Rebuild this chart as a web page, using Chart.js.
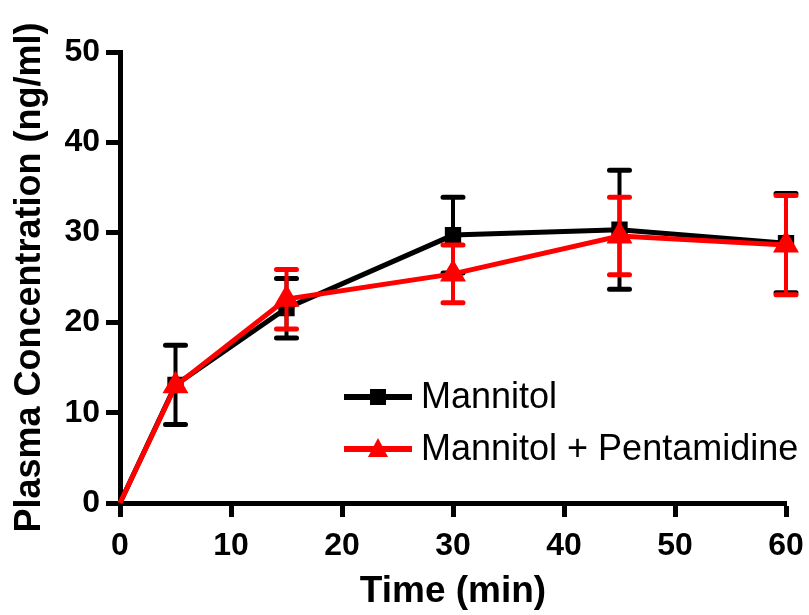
<!DOCTYPE html>
<html>
<head>
<meta charset="utf-8">
<script src="https://cdn.jsdelivr.net/npm/chart.js@4.4.1/dist/chart.umd.min.js"></script>
<style>
  body { margin: 0; background: #fff; }
  #chart { display: block; }
</style>
</head>
<body>
<canvas id="chart" width="809" height="615"></canvas>
<script>
const times = [0, 5, 15, 30, 45, 60];
const mannitol = [0, 13.1, 21.6, 29.7, 30.3, 28.8];
const mannitolErr = [0, 4.4, 3.3, 4.2, 6.6, 5.5];
const pentamidine = [0, 13.0, 22.6, 25.4, 29.6, 28.6];
const pentamidineErr = [0, 0, 3.3, 3.2, 4.3, 5.5];
const yTicks = [0, 10, 20, 30, 40, 50];
const xTicks = [0, 10, 20, 30, 40, 50, 60];

const errors = [mannitolErr, pentamidineErr];
const font = 'Arial, "Liberation Sans", sans-serif';

function toPoints(ys) {
  return times.map((t, i) => ({ x: t, y: ys[i] }));
}

// error bars, drawn right after each dataset's own line
const errorBars = {
  id: 'errorBars',
  afterDatasetDraw(chart, args) {
    const ds = chart.data.datasets[args.index];
    const err = errors[ds.errIndex];
    const ctx = chart.ctx;
    const ys = chart.scales.y;
    ctx.save();
    ctx.strokeStyle = ds.borderColor;
    ctx.lineCap = 'round';
    args.meta.data.forEach((pt, i) => {
      const e = err[i];
      if (!e) return;
      const v = ds.data[i].y;
      const top = ys.getPixelForValue(v + e);
      const bot = ys.getPixelForValue(v - e);
      ctx.lineWidth = 4;
      ctx.beginPath();
      ctx.moveTo(pt.x, top);
      ctx.lineTo(pt.x, bot);
      ctx.stroke();
      ctx.lineWidth = 5;
      ctx.beginPath();
      ctx.moveTo(pt.x - 10, top);
      ctx.lineTo(pt.x + 10, top);
      ctx.moveTo(pt.x - 10, bot);
      ctx.lineTo(pt.x + 10, bot);
      ctx.stroke();
    });
    ctx.restore();
  }
};

// legend inside the plot, lower right
const insideLegend = {
  id: 'insideLegend',
  afterDraw(chart) {
    const ctx = chart.ctx;
    const rows = [
      { label: 'Mannitol', color: '#000', style: 'rect', y: 397 },
      { label: 'Mannitol + Pentamidine', color: '#ff0000', style: 'triangle', y: 449 }
    ];
    ctx.save();
    rows.forEach(r => {
      ctx.strokeStyle = r.color;
      ctx.fillStyle = r.color;
      ctx.lineWidth = 6;
      ctx.beginPath();
      ctx.moveTo(344, r.y);
      ctx.lineTo(412, r.y);
      ctx.stroke();
      if (r.style === 'rect') {
        ctx.fillRect(370, r.y - 8, 16, 16);
      } else {
        ctx.beginPath();
        ctx.moveTo(378, r.y - 11);
        ctx.lineTo(388, r.y + 8);
        ctx.lineTo(368, r.y + 8);
        ctx.closePath();
        ctx.fill();
      }
      ctx.fillStyle = '#000';
      ctx.font = '36px ' + font;
      ctx.textBaseline = 'middle';
      ctx.fillText(r.label, 421, r.y + 1);
    });
    ctx.restore();
  }
};

new Chart(document.getElementById('chart'), {
  type: 'line',
  data: {
    datasets: [
      {
        label: 'Mannitol',
        data: toPoints(mannitol),
        errIndex: 0,
        borderColor: '#000',
        backgroundColor: '#000',
        borderWidth: 5,
        pointStyle: 'rect',
        pointRadius: [0, 8, 8, 8, 8, 8],
        order: 2
      },
      {
        label: 'Mannitol + Pentamidine',
        data: toPoints(pentamidine),
        errIndex: 1,
        borderColor: '#ff0000',
        backgroundColor: '#ff0000',
        borderWidth: 5,
        pointStyle: 'triangle',
        pointRadius: [0, 10, 10, 10, 10, 10],
        order: 1
      }
    ]
  },
  options: {
    responsive: false,
    animation: false,
    clip: false,
    layout: { padding: { top: 52, right: 23, left: 0, bottom: 0 } },
    plugins: { legend: { display: false }, tooltip: { enabled: false } },
    scales: {
      x: {
        type: 'linear',
        min: 0,
        max: 60,
        afterBuildTicks: axis => { axis.ticks = xTicks.map(v => ({ value: v })); },
        afterFit: axis => { axis.height = 112; axis.paddingLeft = 0; axis.paddingRight = 0; },
        grid: { display: true, drawOnChartArea: false, drawTicks: true, tickLength: 14, tickWidth: 5, color: '#000' },
        border: { display: true, width: 5, color: '#000' },
        ticks: { color: '#000', font: { family: font, size: 32, weight: 'bold' }, padding: 10, maxRotation: 0 },
        title: { display: true, text: 'Time (min)', color: '#000', font: { family: font, size: 37, weight: 'bold' }, padding: { top: 0, bottom: 1 } }
      },
      y: {
        min: 0,
        max: 50,
        afterBuildTicks: axis => { axis.ticks = yTicks.map(v => ({ value: v })); },
        afterFit: axis => { axis.width = 120; axis.paddingTop = 0; axis.paddingBottom = 0; },
        grid: { display: true, drawOnChartArea: false, drawTicks: true, tickLength: 14, tickWidth: 5, color: '#000' },
        border: { display: true, width: 5, color: '#000' },
        ticks: { color: '#000', font: { family: font, size: 32, weight: 'bold' }, padding: 6 },
        title: { display: true, text: 'Plasma Concentration (ng/ml)', color: '#000', font: { family: font, size: 36, weight: 'bold' }, padding: { top: 8, bottom: 0 } }
      }
    }
  },
  plugins: [errorBars, insideLegend]
});
</script>
</body>
</html>
